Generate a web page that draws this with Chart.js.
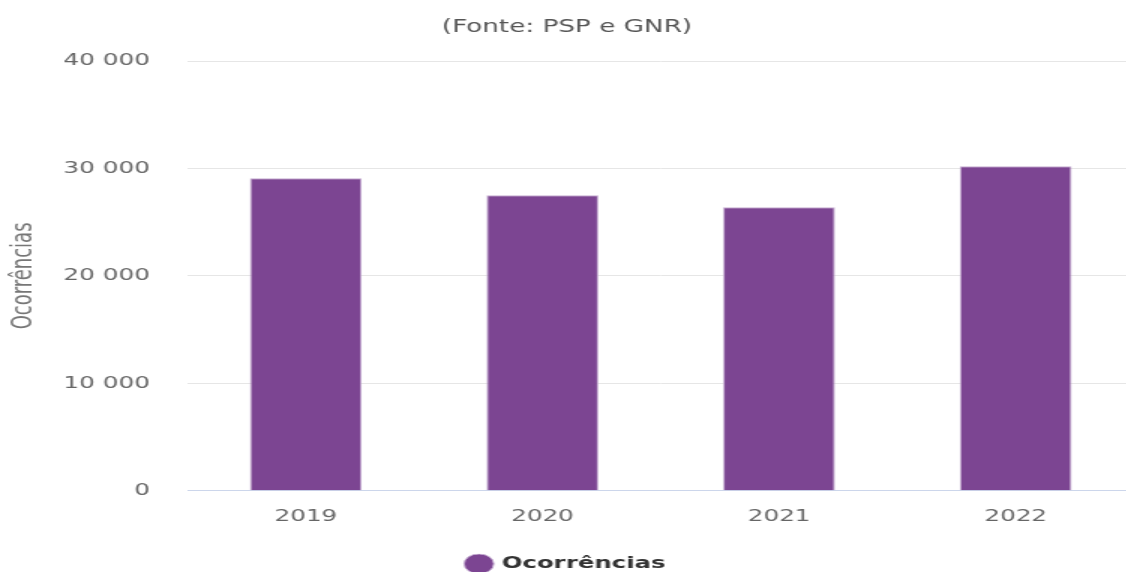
<!DOCTYPE html>
<html lang="pt">
<head>
<meta charset="utf-8">
<title>Ocorrências</title>
<script src="https://cdn.jsdelivr.net/npm/chart.js@4/dist/chart.umd.min.js"></script>
<style>
  html, body { margin: 0; padding: 0; background: #fff; overflow: hidden; }
  /* the reference is stretched sideways, so the canvas is drawn narrow and widened by css */
  #chart { display: block; width: 1134px; height: 572px; }
</style>
</head>
<body>
<canvas id="chart" width="756" height="572" style="width:1134px;height:572px"></canvas>
<script>
const years = ["2019", "2020", "2021", "2022"];
const ocorrencias = [29100, 27500, 26400, 30200];
const yTickValues = [0, 10000, 20000, 30000, 40000];

const seriesName = "Ocorrências";
const sourceText = "(Fonte: PSP e GNR)";

const fmt = (v) => String(v).replace(/\B(?=(\d{3})+(?!\d))/g, " ");

const ctx = document.getElementById("chart").getContext("2d");

new Chart(ctx, {
  type: "bar",
  data: {
    labels: years,
    datasets: [{
      label: seriesName,
      data: ocorrencias,
      backgroundColor: "#7c4592",
      borderColor: "#c6aed2",
      borderWidth: 1,
      barPercentage: 0.473,
      categoryPercentage: 1,
    }],
  },
  options: {
    responsive: false,
    devicePixelRatio: 1,
    animation: false,
    layout: { padding: { left: 0, right: 0, top: 0, bottom: -10 } },
    plugins: {
      title: {
        display: true,
        text: sourceText,
        color: "#555",
        font: { family: "'DejaVu Sans', sans-serif", size: 17.5, weight: "normal" },
        padding: { top: 17, bottom: 23.1 },
      },
      legend: {
        position: "bottom",
        labels: {
          usePointStyle: true,
          pointStyle: "circle",
          boxWidth: 14,
          boxHeight: 14,
          padding: 2,
          color: "#333",
          font: { family: "'DejaVu Sans', sans-serif", size: 16.3, weight: "bold" },
        },
      },
      tooltip: { enabled: false },
    },
    scales: {
      x: {
        grid: { display: false, drawTicks: false },
        border: { display: true, color: "#ccd6eb", width: 1 },
        ticks: {
          color: "#666",
          padding: 16,
          font: { family: "'DejaVu Sans', sans-serif", size: 16.5 },
        },
        afterFit: (s) => { s.height = 63; },
      },
      y: {
        min: 0,
        max: 40000,
        afterBuildTicks: (s) => { s.ticks = yTickValues.map((v) => ({ value: v })); },
        grid: { color: "#e6e6e6", lineWidth: 1, drawTicks: false },
        border: { display: false },
        ticks: {
          color: "#666",
          padding: 25,
          font: { family: "'DejaVu Sans', sans-serif", size: 16.5 },
          callback: (v) => fmt(v),
        },
        title: {
          display: true,
          text: seriesName,
          color: "#777",
          font: { family: "'Liberation Sans Narrow', 'DejaVu Sans Condensed', sans-serif", size: 20 },
          padding: { top: 4, bottom: 0 },
        },
        afterFit: (s) => { s.width = 125; },
      },
    },
  },
});
</script>
</body>
</html>
